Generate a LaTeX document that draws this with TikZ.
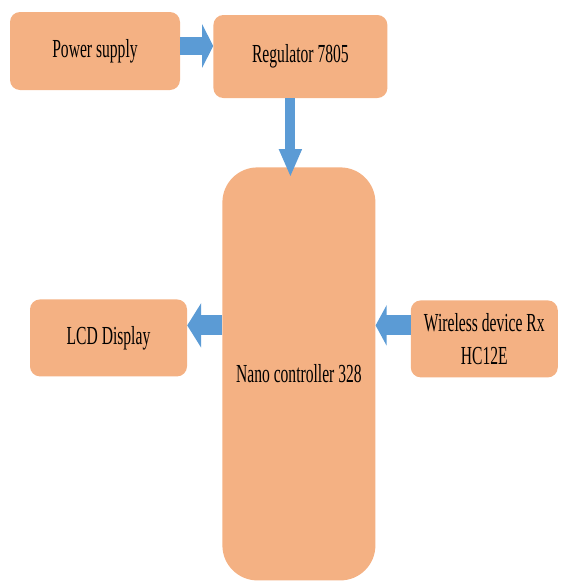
\documentclass[tikz,border=0pt]{standalone}
\usepackage{fontspec}
\setmainfont{Liberation Serif}[FakeStretch=0.6]
\usetikzlibrary{arrows.meta, positioning}
\definecolor{boxorange}{RGB}{244,177,131}
\definecolor{arrblue}{RGB}{91,155,213}

\begin{document}
\begin{tikzpicture}[
    x=1pt, y=1pt,
    node distance=33pt and 35pt,
    box/.style={rounded corners=10pt, fill=boxorange, inner sep=0pt, align=center, font=\fontsize{26}{33}\selectfont},
    arr/.style={arrblue, line width=20pt, -{Triangle[width=43pt, length=12pt]}}
  ]
    \useasboundingbox (0,0) rectangle (561,-582);
    \node[box, minimum width=170pt, minimum height=78pt] (pwr) at (95,-51) {Power supply};
    \node[box, minimum width=174pt, minimum height=83pt, right=33pt of pwr, yshift=-5.5pt] (reg) {Regulator 7805};
    \node[box, rounded corners=35pt, minimum width=153pt, minimum height=413pt, below=69pt of reg, xshift=-1.5pt] (nano) {Nano controller 328};
    \node[box, minimum width=157pt, minimum height=77pt, left=of nano, yshift=36pt] (lcd) {LCD Display};
    \node[box, minimum width=147pt, minimum height=77pt, right=of nano, yshift=35pt] (wl) {Wireless device Rx\\HC12E};
    \draw[arr, line width=18pt, -{Triangle[width=43pt, length=11pt]}] ([yshift=5pt]pwr.east) -- ([yshift=10.5pt]reg.west);
    \draw[arr, line width=10pt, -{Triangle[width=21pt, length=28pt]}] ([xshift=-10pt]reg.south) -- ([xshift=-8.5pt, yshift=-10pt]nano.north);
    \draw[arr, -{Triangle[width=44pt, length=14pt]}] ([yshift=48.5pt]nano.west) -- ([yshift=12.5pt]lcd.east);
    \draw[arr, -{Triangle[width=40pt, length=11pt]}] ([yshift=13.5pt]wl.west) -- ([yshift=48.5pt]nano.east);
  \end{tikzpicture}
\end{document}
